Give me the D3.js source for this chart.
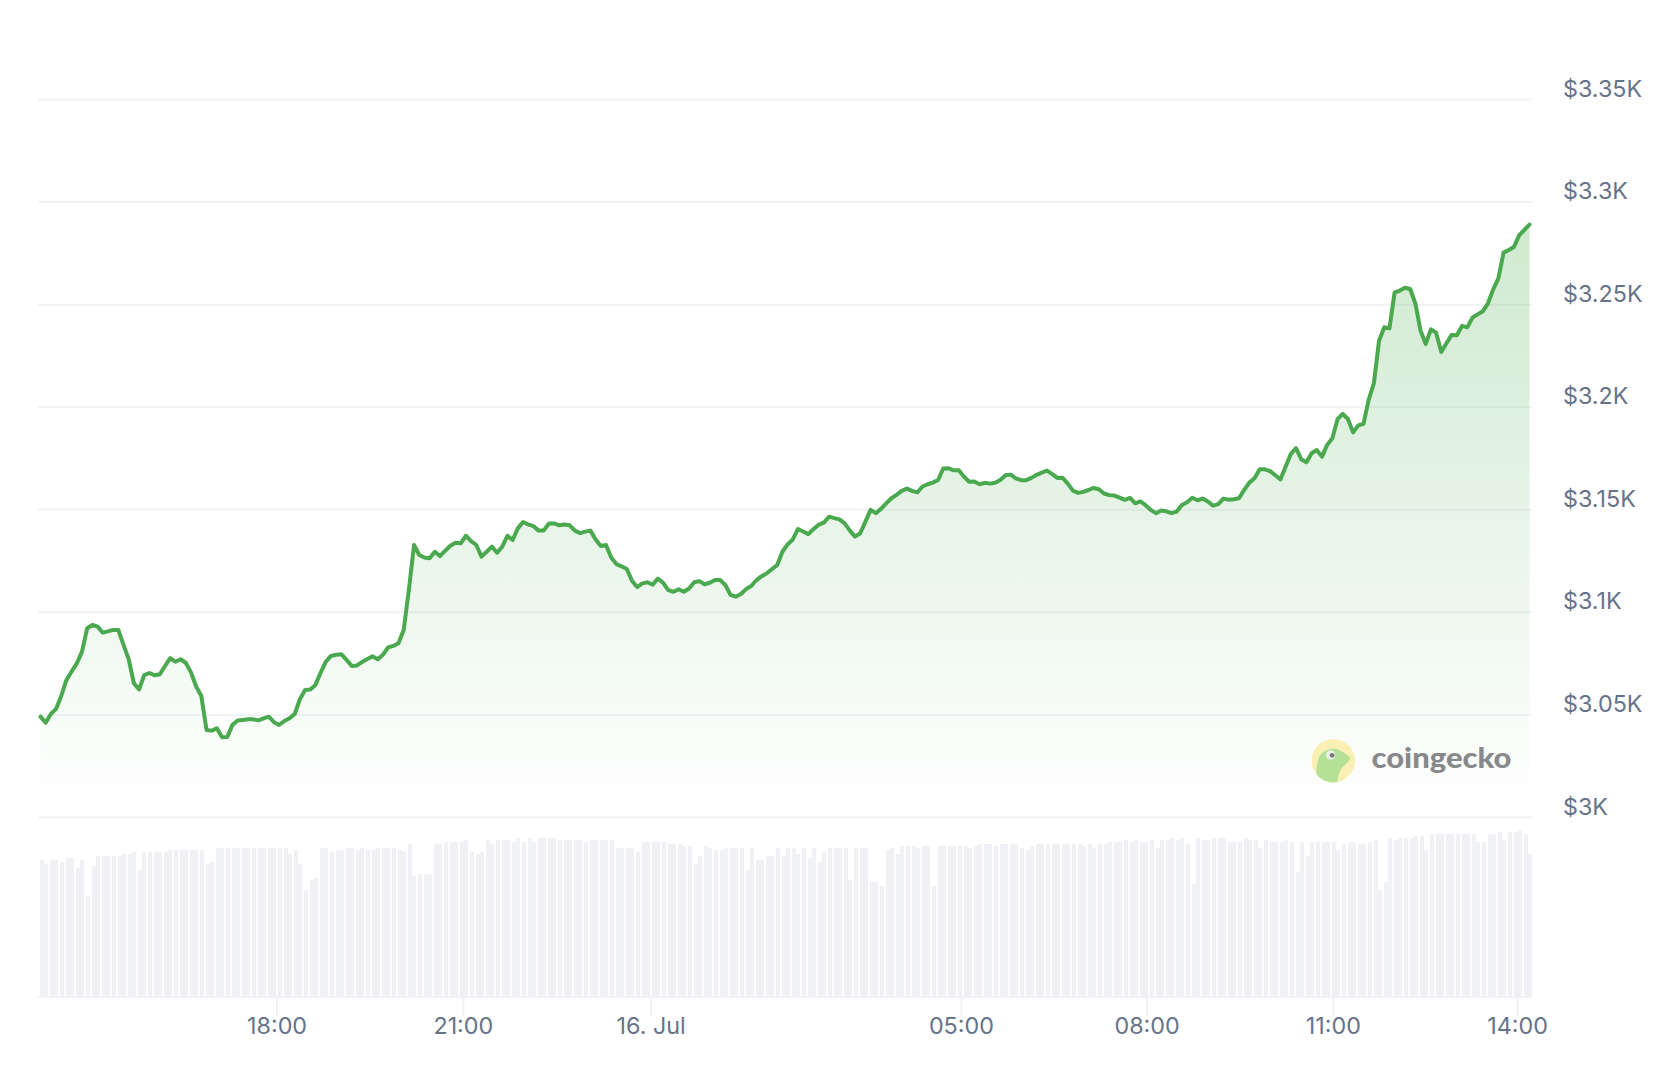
<!DOCTYPE html>
<html>
<head>
<meta charset="utf-8">
<script src="https://cdn.jsdelivr.net/npm/d3@7"></script>
<style>
  body { margin: 0; background: #fff; }
  svg { display: block; }
  svg text { font-family: Inter, sans-serif; }
</style>
</head>
<body>
<div id="chart"></div>
<script>
// Price every 5 min over 24h (USD)
const prices = [
  3048.9,3046.0,3050.2,3052.7,3059.0,3066.8,3070.9,3074.9,3080.6,3092.0,
  3093.6,3092.8,3089.9,3090.5,3091.2,3091.2,3083.9,3076.9,3065.2,3062.2,
  3069.2,3070.2,3069.1,3069.6,3073.6,3077.4,3075.7,3076.9,3075.2,3070.5,
  3063.6,3059.0,3042.4,3042.1,3043.2,3038.9,3039.0,3044.9,3047.0,3047.3,
  3047.6,3047.6,3047.1,3048.1,3048.9,3046.2,3044.9,3046.8,3048.1,3050.2,
  3057.4,3061.9,3062.2,3064.4,3070.4,3075.7,3078.5,3079.1,3079.3,3076.6,
  3073.6,3073.9,3075.6,3077.0,3078.3,3076.9,3079.1,3082.7,3083.4,3084.7,
  3091.2,3110.7,3132.6,3127.7,3126.5,3126.1,3129.3,3127.2,3129.8,3132.2,
  3133.7,3133.4,3137.1,3134.5,3132.6,3126.9,3129.3,3131.8,3128.8,3131.8,
  3137.1,3135.0,3140.7,3143.8,3142.6,3141.8,3139.6,3139.7,3143.1,3143.1,
  3142.2,3142.6,3142.2,3139.6,3138.4,3139.1,3139.6,3135.3,3132.1,3132.6,
  3126.5,3123.3,3122.2,3120.9,3115.2,3112.1,3113.9,3114.4,3113.2,3116.2,
  3114.2,3110.6,3109.8,3111.0,3109.8,3111.4,3114.4,3115.0,3113.4,3114.2,
  3115.5,3115.5,3113.1,3108.3,3107.4,3108.7,3111.1,3112.6,3115.5,3117.4,
  3118.8,3120.9,3122.8,3129.3,3132.9,3135.3,3140.4,3139.2,3137.9,3140.4,
  3142.5,3143.5,3146.4,3145.7,3145.1,3143.1,3139.6,3136.7,3138.3,3144.0,
  3149.7,3148.1,3150.2,3152.9,3155.4,3157.0,3159.0,3160.1,3159.0,3158.2,
  3161.1,3162.2,3163.0,3164.3,3169.9,3170.0,3169.0,3169.0,3165.9,3163.4,
  3163.5,3162.2,3162.9,3162.5,3162.9,3164.3,3166.6,3166.9,3165.1,3164.2,
  3164.2,3165.3,3166.8,3167.9,3168.9,3167.1,3165.3,3165.4,3162.5,3159.1,
  3158.0,3158.5,3159.4,3160.4,3159.8,3157.7,3156.9,3156.7,3155.7,3154.6,
  3155.6,3152.9,3153.8,3152.0,3149.7,3148.1,3149.4,3149.0,3148.1,3148.9,
  3152.1,3153.4,3155.6,3154.4,3155.2,3153.8,3151.8,3152.5,3155.2,3154.7,
  3154.9,3155.4,3159.4,3163.0,3165.1,3169.5,3169.5,3168.6,3166.6,3164.6,
  3170.8,3177.0,3179.8,3174.4,3172.9,3177.3,3178.9,3175.7,3181.4,3184.6,
  3193.9,3196.5,3194.0,3187.5,3190.9,3191.6,3203.3,3211.4,3232.2,3238.7,
  3238.2,3255.6,3256.6,3258.0,3257.4,3250.4,3237.1,3230.6,3237.7,3236.1,
  3226.7,3230.9,3235.0,3234.8,3239.4,3238.7,3243.4,3245.0,3246.5,3250.4,
  3257.2,3262.6,3275.1,3276.4,3277.9,3283.5,3286.2,3288.8
];

// Volume, relative units (the picture has no volume axis)
const volumes = [
  85.6,83.1,85.6,85.6,84.4,86.9,86.9,80.6,85.6,63.1,
  81.9,88.1,88.1,88.1,88.1,88.1,89.4,89.4,90.6,79.4,
  90.6,90.6,90.6,90.6,90.6,91.9,91.9,91.9,91.9,91.9,
  91.9,91.9,83.1,84.4,93.1,93.1,93.1,93.1,93.1,93.1,
  93.1,93.1,93.1,93.1,93.1,93.1,93.1,93.1,89.4,91.9,
  83.1,66.9,73.1,74.4,93.1,93.1,90.6,91.9,91.9,93.1,
  93.1,91.9,93.1,91.9,91.9,93.1,93.1,93.1,93.1,91.9,
  90.6,95.6,75.6,76.9,76.9,76.9,95.6,95.6,96.9,96.9,
  96.9,96.9,98.1,90.6,89.4,90.6,98.1,95.6,98.1,98.1,
  98.1,96.9,99.4,96.9,99.4,96.9,99.4,99.4,99.4,99.4,
  98.1,98.1,98.1,98.1,98.1,96.9,98.1,98.1,98.1,98.1,
  98.1,93.1,93.1,93.1,93.1,90.6,96.9,96.9,96.9,96.9,
  96.9,95.6,95.6,95.6,94.4,94.4,83.1,88.1,94.4,93.1,
  91.9,91.9,93.1,93.1,93.1,93.1,79.4,93.1,85.6,85.6,
  88.1,88.1,93.1,88.1,93.1,93.1,89.4,93.1,86.9,93.1,
  84.4,90.6,93.1,93.1,93.1,93.1,73.1,93.1,93.1,93.1,
  71.9,71.9,69.4,91.9,93.1,89.4,94.4,94.4,94.4,93.1,
  94.4,94.4,69.4,94.4,94.4,94.4,94.4,94.4,94.4,93.1,
  94.4,95.6,95.6,95.6,94.4,95.6,95.6,95.6,95.6,93.1,
  91.9,94.4,95.6,95.6,95.6,95.6,95.6,95.6,95.6,95.6,
  95.6,94.4,95.6,93.1,95.6,95.6,96.9,96.9,96.9,98.1,
  96.9,98.1,96.9,96.9,98.1,93.1,98.1,98.1,99.4,98.1,
  99.4,95.6,70.6,99.4,98.1,98.1,99.4,99.4,99.4,96.9,
  96.9,96.9,99.4,98.1,98.1,93.1,98.1,96.9,96.9,96.9,
  98.1,96.9,78.1,96.9,88.1,96.9,96.9,96.9,96.9,96.9,
  91.9,95.6,96.9,96.9,95.6,95.6,96.9,98.1,66.9,71.9,
  99.4,98.1,99.4,99.4,99.4,100.6,100.6,91.9,101.9,101.9,
  101.9,101.9,101.9,101.9,101.9,101.9,101.9,96.9,96.9,101.9,
  101.9,103.1,98.1,103.1,103.1,104.4,101.9,89.4
];

const priceTicks = [3000, 3050, 3100, 3150, 3200, 3250, 3300, 3350];
// the axis is ordinal, so ticks sit on point positions, not on a linear clock
const timeTickIndex = [45.5, 81.4, 117.6, 177.4, 213.2, 249.1, 284.6];
const timeTickLabels = ['18:00', '21:00', '16. Jul', '05:00', '08:00', '11:00', '14:00'];

const width = 1666;
const height = 1080;
const gridColor = '#f1f2f6';
const labelColor = '#677389';
const lineColor = '#4aa94e';

const svg = d3.select('#chart').append('svg')
  .attr('width', width)
  .attr('height', height);

const x = d3.scaleLinear().domain([0, prices.length - 1]).range([40.5, 1529.5]);
const y = d3.scaleLinear().domain([3000, 3350]).range([817, 99]);
const yVol = d3.scaleLinear().domain([0, 100]).range([997, 837]);
const barX = d3.scaleLinear().domain([0, volumes.length - 1]).range([40.2, 1529.7]);

const defs = svg.append('defs');
const gradient = defs.append('linearGradient')
  .attr('id', 'areaFill')
  .attr('gradientUnits', 'userSpaceOnUse')
  .attr('x1', 0).attr('x2', 0)
  .attr('y1', y(d3.max(prices))).attr('y2', y(3000) - 10);
gradient.append('stop').attr('offset', 0).attr('stop-color', '#4caf50').attr('stop-opacity', 0.27);
gradient.append('stop').attr('offset', 1).attr('stop-color', '#4caf50').attr('stop-opacity', 0);

// volume bars, snapped to even pixels like the original
svg.append('g').selectAll('rect')
  .data(volumes)
  .join('rect')
  .attr('x', (d, i) => Math.floor(barX(i) / 2) * 2)
  .attr('y', d => yVol(d))
  .attr('width', 4)
  .attr('height', d => yVol(0) - yVol(d))
  .attr('fill', '#f0f1f5');

// grid + price labels
const yAxis = svg.append('g')
  .attr('transform', 'translate(38,0)')
  .call(d3.axisRight(y).tickValues(priceTicks).tickSize(1494).tickPadding(31)
    .tickFormat(d => `$${d / 1000}K`));
yAxis.select('.domain').remove();
yAxis.selectAll('line').attr('stroke', gridColor).attr('stroke-width', 2);
yAxis.selectAll('text')
  .attr('y', -3).attr('dy', 0)
  .attr('fill', labelColor)
  .style('font-size', '23.3px');

// time axis
const xAxis = svg.append('g')
  .attr('transform', 'translate(0,997)')
  .call(d3.axisBottom(x).tickValues(timeTickIndex).tickSize(19)
    .tickFormat((d, i) => timeTickLabels[i]));
xAxis.select('.domain').remove();
xAxis.selectAll('line').attr('stroke', gridColor).attr('stroke-width', 2);
xAxis.selectAll('text')
  .attr('y', 37).attr('dy', 0)
  .attr('fill', labelColor)
  .style('font-size', '23.3px');
svg.append('line')
  .attr('x1', 38).attr('x2', 1532)
  .attr('y1', 997).attr('y2', 997)
  .attr('stroke', gridColor).attr('stroke-width', 2);

// area + line
const area = d3.area()
  .x((d, i) => x(i))
  .y0(y(3000))
  .y1(d => y(d));
const line = d3.line()
  .x((d, i) => x(i))
  .y(d => y(d));

svg.append('path').attr('d', area(prices)).attr('fill', 'url(#areaFill)');
svg.append('path')
  .attr('d', line(prices))
  .attr('fill', 'none')
  .attr('stroke', lineColor)
  .attr('stroke-width', 4)
  .attr('stroke-linejoin', 'round')
  .attr('stroke-linecap', 'round');

// coingecko watermark
const logo = svg.append('g').attr('transform', 'translate(1333.3,760.7)');
defs.append('clipPath').attr('id', 'logoClip').append('circle').attr('r', 21.7);
logo.append('circle').attr('r', 21.7).attr('fill', '#faf0b4');
logo.append('path')
  .attr('clip-path', 'url(#logoClip)')
  .attr('d', 'M-17,24 C-17,12 -17,2 -14,-4 C-11,-10 -5,-12 2,-12 C8,-11 13,-6 17,-3 C15,3 9,5 7,10 C5,14 4,18 4,24 Z')
  .attr('fill', '#b4e196');
logo.append('circle').attr('cx', -2.7).attr('cy', -5.7).attr('r', 4.6).attr('fill', '#eef3ea');
logo.append('circle').attr('cx', -1.2).attr('cy', -5.4).attr('r', 2.4).attr('fill', '#77797a');
svg.append('text')
  .attr('x', 1371.5).attr('y', 768)
  .attr('textLength', 140)
  .attr('lengthAdjust', 'spacingAndGlyphs')
  .attr('fill', '#87898b')
  .style('font-family', 'Lato, sans-serif')
  .style('font-weight', 900)
  .style('font-size', '29px')
  .text('coingecko');
</script>
</body>
</html>
